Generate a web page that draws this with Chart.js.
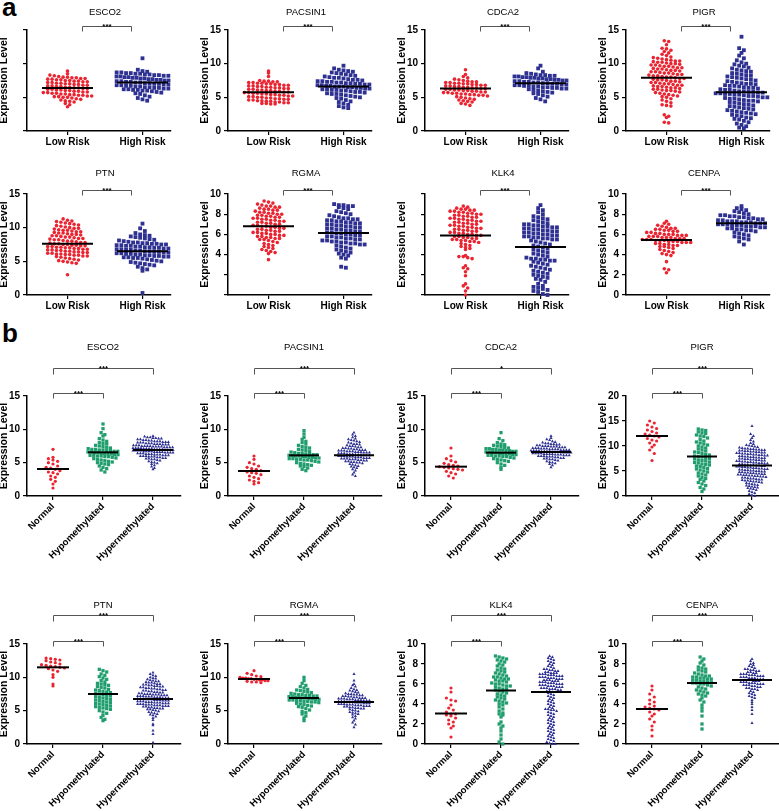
<!DOCTYPE html>
<html>
<head>
<meta charset="utf-8">
<script src="https://cdn.jsdelivr.net/npm/chart.js@4.4.1/dist/chart.umd.min.js"></script>
<style>
  body { margin: 0; background: #fff; width: 779px; height: 811px; overflow: hidden; position: relative; font-family: "Liberation Sans", Arial, sans-serif; }
  canvas { position: absolute; }
  .tag { position: absolute; font-weight: bold; font-size: 26px; line-height: 1; }
</style>
</head>
<body>
<div class="tag" style="left:2px;top:-6px">a</div>
<div class="tag" style="left:2px;top:320px">b</div>
<script>
// categories and tick values
const riskGroups = ['Low Risk', 'High Risk'];
const methGroups = ['Normal', 'Hypomethylated', 'Hypermethylated'];
const ticks15 = [0, 5, 10, 15];
const ticks10 = [0, 2, 4, 6, 8, 10];
const ticks20 = [0, 5, 10, 15, 20];

// panel a: expression by risk group
const esco2Low = [8.9,8.5,8.3,8.2,8.1,8.0,8.0,7.9,7.9,7.8,7.8,7.7,7.7,7.6,7.6,7.5,7.5,7.4,7.4,7.3,7.3,7.2,7.2,7.1,7.1,7.0,7.0,6.9,6.9,6.8,6.8,6.7,6.7,6.6,6.6,6.5,6.5,6.4,6.4,6.3,6.3,6.2,6.2,6.1,6.1,6.0,6.0,5.9,5.9,5.8,5.8,5.7,5.7,5.6,5.6,5.5,5.5,5.4,5.4,5.3,5.3,5.2,5.2,5.1,5.1,5.0,5.0,4.9,4.8,4.7,4.6,4.5,4.4,4.3,4.1,3.9,3.6];
const esco2High = [10.8,9.1,8.9,8.8,8.7,8.7,8.6,8.6,8.5,8.5,8.4,8.4,8.3,8.3,8.2,8.2,8.1,8.1,8.0,8.0,7.9,7.9,7.8,7.8,7.7,7.7,7.6,7.6,7.5,7.5,7.4,7.4,7.3,7.3,7.2,7.2,7.1,7.1,7.0,7.0,6.9,6.9,6.8,6.8,6.7,6.7,6.6,6.6,6.5,6.5,6.4,6.4,6.3,6.3,6.2,6.2,6.1,6.1,6.0,6.0,5.9,5.8,5.7,5.6,5.5,5.3,5.1,4.9,4.7,4.5];
const pacsin1Low = [8.9,8.6,8.1,7.5,7.4,7.4,7.3,7.3,7.2,7.2,7.1,7.1,7.0,7.0,6.9,6.9,6.8,6.8,6.7,6.7,6.6,6.6,6.5,6.5,6.4,6.4,6.3,6.3,6.2,6.2,6.1,6.1,6.0,6.0,5.9,5.9,5.8,5.8,5.7,5.7,5.6,5.6,5.5,5.5,5.4,5.4,5.3,5.3,5.2,5.2,5.1,5.1,5.0,5.0,4.9,4.9,4.8,4.8,4.7,4.7,4.6,4.6,4.5,4.5,4.4,4.4,4.3,4.3,4.2,4.2,4.1,4.1,4.0,4.0];
const pacsin1High = [9.7,9.3,9.1,9.0,8.9,8.8,8.7,8.6,8.5,8.4,8.3,8.2,8.1,8.0,7.9,7.9,7.8,7.7,7.6,7.6,7.5,7.4,7.4,7.3,7.3,7.2,7.2,7.1,7.1,7.0,7.0,6.9,6.9,6.8,6.8,6.7,6.7,6.6,6.6,6.6,6.5,6.5,6.4,6.4,6.3,6.3,6.2,6.2,6.1,6.1,6.0,6.0,5.9,5.8,5.8,5.7,5.6,5.5,5.5,5.4,5.3,5.2,5.1,5.0,4.9,4.8,4.6,4.4,4.3,4.1,3.9,3.7,3.5,3.4];
const cdca2Low = [9.1,8.4,8.1,7.9,7.7,7.6,7.5,7.4,7.3,7.3,7.2,7.2,7.1,7.1,7.0,7.0,6.9,6.9,6.8,6.8,6.7,6.7,6.6,6.6,6.5,6.5,6.4,6.4,6.3,6.3,6.2,6.2,6.1,6.1,6.0,6.0,5.9,5.9,5.8,5.8,5.7,5.7,5.6,5.6,5.5,5.5,5.4,5.4,5.3,5.3,5.2,5.1,5.0,4.9,4.8,4.7,4.6,4.5,4.4,4.3,4.1,4.0,3.8];
const cdca2High = [9.7,9.3,8.8,8.6,8.5,8.4,8.3,8.3,8.2,8.2,8.1,8.1,8.0,8.0,7.9,7.9,7.8,7.8,7.7,7.7,7.6,7.6,7.5,7.5,7.4,7.4,7.3,7.3,7.2,7.2,7.1,7.1,7.0,7.0,6.9,6.9,6.8,6.8,6.7,6.7,6.6,6.6,6.5,6.5,6.4,6.4,6.3,6.3,6.2,6.1,6.0,5.9,5.8,5.7,5.6,5.5,5.3,5.1,4.9,4.7,4.4];
const pigrLow = [13.4,13.3,12.8,12.3,12.2,12.0,11.8,11.6,11.4,11.2,11.0,10.9,10.8,10.7,10.6,10.5,10.4,10.4,10.3,10.2,10.2,10.1,10.0,10.0,9.9,9.8,9.8,9.7,9.6,9.6,9.5,9.4,9.4,9.3,9.2,9.2,9.1,9.0,9.0,8.9,8.8,8.8,8.7,8.6,8.6,8.5,8.4,8.4,8.3,8.2,8.2,8.1,8.0,8.0,7.9,7.8,7.8,7.7,7.6,7.6,7.5,7.4,7.4,7.3,7.2,7.2,7.1,7.0,7.0,6.9,6.8,6.8,6.7,6.6,6.6,6.5,6.4,6.4,6.3,6.2,6.2,6.1,6.0,6.0,5.9,5.8,5.7,5.6,5.5,5.4,5.3,5.2,5.1,5.0,4.8,4.6,4.4,4.2,3.9,3.8,3.7,2.4,2.2,2.0,1.3,1.2];
const pigrHigh = [14.0,12.3,12.0,11.6,11.2,10.8,10.5,10.2,10.0,9.9,9.7,9.6,9.4,9.3,9.1,9.0,8.9,8.8,8.6,8.5,8.4,8.3,8.2,8.1,8.0,7.9,7.8,7.7,7.6,7.5,7.4,7.3,7.2,7.1,7.0,7.0,6.9,6.8,6.7,6.7,6.6,6.5,6.4,6.4,6.3,6.2,6.1,6.1,6.0,5.9,5.9,5.8,5.8,5.7,5.7,5.6,5.6,5.5,5.5,5.4,5.4,5.3,5.2,5.2,5.1,5.0,5.0,4.9,4.8,4.8,4.7,4.6,4.5,4.5,4.4,4.3,4.2,4.1,4.0,3.9,3.8,3.7,3.6,3.5,3.4,3.3,3.2,3.1,3.0,2.9,2.8,2.7,2.6,2.5,2.4,2.3,2.2,2.0,1.9,1.8,1.7,1.5,1.3,1.1,0.9,0.7,0.5,0.4];
const ptnLow = [11.3,11.1,11.0,10.9,10.8,10.7,10.6,10.5,10.4,10.3,10.2,10.1,10.0,9.9,9.9,9.8,9.7,9.6,9.6,9.5,9.4,9.4,9.3,9.2,9.2,9.1,9.0,9.0,8.9,8.8,8.8,8.7,8.6,8.6,8.5,8.4,8.4,8.3,8.2,8.2,8.1,8.0,8.0,7.9,7.8,7.8,7.7,7.6,7.6,7.5,7.5,7.4,7.4,7.3,7.3,7.2,7.2,7.1,7.1,7.0,7.0,6.9,6.9,6.8,6.8,6.7,6.7,6.6,6.6,6.5,6.5,6.4,6.4,6.3,6.3,6.2,6.2,6.1,6.1,6.0,6.0,5.9,5.9,5.8,5.8,5.7,5.6,5.5,5.4,5.3,5.2,5.1,5.0,4.9,4.8,4.7,3.0];
const ptnHigh = [10.6,9.9,9.5,9.2,9.0,8.9,8.8,8.7,8.6,8.5,8.4,8.3,8.2,8.1,8.0,7.9,7.8,7.8,7.7,7.7,7.6,7.6,7.5,7.5,7.4,7.4,7.3,7.3,7.2,7.2,7.1,7.1,7.0,7.0,6.9,6.9,6.8,6.8,6.7,6.7,6.6,6.6,6.5,6.5,6.4,6.4,6.3,6.3,6.2,6.2,6.1,6.1,6.0,6.0,5.9,5.9,5.8,5.8,5.7,5.7,5.6,5.6,5.5,5.5,5.4,5.3,5.2,5.1,5.0,4.9,4.8,4.7,4.6,4.5,4.4,4.2,4.0,3.8,3.6,0.3];
const rgmaLow = [9.3,9.2,9.1,9.0,8.9,8.8,8.8,8.7,8.7,8.6,8.5,8.5,8.4,8.4,8.3,8.2,8.2,8.1,8.1,8.0,8.0,7.9,7.9,7.8,7.8,7.7,7.7,7.6,7.6,7.5,7.5,7.4,7.4,7.3,7.3,7.2,7.2,7.1,7.1,7.0,7.0,6.9,6.9,6.8,6.8,6.7,6.7,6.6,6.6,6.5,6.5,6.4,6.4,6.3,6.3,6.2,6.2,6.1,6.1,6.0,6.0,5.9,5.9,5.8,5.8,5.7,5.7,5.6,5.6,5.5,5.5,5.4,5.3,5.2,5.1,5.0,4.9,4.8,4.7,4.6,4.5,4.4,4.3,4.2,4.1,3.5];
const rgmaHigh = [9.0,8.9,8.9,8.8,8.8,8.7,8.6,8.5,8.3,8.2,8.1,8.0,7.9,7.8,7.7,7.6,7.6,7.5,7.5,7.4,7.4,7.3,7.3,7.2,7.2,7.1,7.1,7.0,7.0,6.9,6.9,6.8,6.8,6.7,6.7,6.6,6.6,6.5,6.5,6.4,6.4,6.3,6.3,6.2,6.2,6.1,6.1,6.0,6.0,5.9,5.9,5.8,5.8,5.7,5.7,5.6,5.6,5.5,5.5,5.4,5.4,5.3,5.3,5.2,5.2,5.1,5.1,5.0,5.0,4.9,4.8,4.7,4.6,4.5,4.4,4.3,4.2,4.1,4.0,3.9,3.7,3.6,2.8,2.7];
const klk4Low = [8.8,8.7,8.6,8.5,8.5,8.4,8.4,8.3,8.3,8.2,8.2,8.1,8.1,8.0,8.0,7.9,7.9,7.8,7.8,7.7,7.7,7.6,7.6,7.5,7.5,7.4,7.4,7.3,7.3,7.2,7.2,7.1,7.1,7.0,7.0,6.9,6.9,6.8,6.8,6.7,6.7,6.6,6.6,6.5,6.5,6.4,6.4,6.3,6.3,6.2,6.2,6.1,6.1,6.0,6.0,5.9,5.9,5.8,5.8,5.7,5.7,5.6,5.6,5.5,5.5,5.4,5.4,5.3,5.3,5.2,5.1,5.0,4.9,4.8,4.7,4.6,4.5,3.9,3.8,3.8,3.7,3.6,2.9,2.7,2.6,2.3,1.9,1.1,0.9,0.7,0.4,0.0];
const klk4High = [8.9,8.6,8.4,8.2,8.0,7.8,7.7,7.6,7.5,7.4,7.3,7.2,7.1,7.0,7.0,6.9,6.9,6.8,6.8,6.7,6.7,6.6,6.6,6.5,6.5,6.4,6.4,6.3,6.3,6.2,6.2,6.1,6.1,6.0,6.0,5.9,5.9,5.8,5.8,5.7,5.7,5.6,5.6,5.5,5.5,5.4,5.3,5.2,5.1,5.0,4.9,4.8,4.7,4.6,4.5,4.4,4.3,4.2,4.1,4.0,3.9,3.8,3.7,3.6,3.6,3.5,3.5,3.4,3.4,3.3,3.2,3.1,3.0,2.9,2.8,2.7,2.6,2.5,2.4,2.3,2.2,2.1,2.0,1.9,1.8,1.7,1.6,1.5,1.3,1.1,0.9,0.8,0.7,0.6,0.5,0.4,0.3,0.1,0.0];
const cenpaLow = [7.3,7.1,7.0,6.9,6.8,6.7,6.6,6.6,6.5,6.5,6.4,6.4,6.3,6.3,6.2,6.2,6.1,6.1,6.0,6.0,6.0,5.9,5.9,5.9,5.8,5.8,5.8,5.7,5.7,5.7,5.6,5.6,5.6,5.5,5.5,5.5,5.4,5.4,5.4,5.3,5.3,5.3,5.2,5.2,5.2,5.1,5.1,5.0,5.0,4.9,4.9,4.8,4.8,4.7,4.6,4.5,4.4,4.3,4.2,4.1,4.0,3.9,3.3,2.6,2.5,2.2];
const cenpaHigh = [8.8,8.6,8.5,8.4,8.3,8.2,8.1,8.0,7.9,7.9,7.8,7.8,7.7,7.7,7.6,7.6,7.5,7.5,7.4,7.4,7.3,7.3,7.3,7.2,7.2,7.2,7.1,7.1,7.1,7.0,7.0,7.0,6.9,6.9,6.9,6.8,6.8,6.8,6.7,6.7,6.6,6.6,6.5,6.5,6.4,6.4,6.3,6.2,6.1,6.0,5.9,5.8,5.7,5.6,5.5,5.3,5.0];

// panel b: expression by methylation group
const esco2Normal = [7.0,5.8,5.6,5.4,5.2,5.0,4.8,4.5,4.3,4.2,4.0,3.8,3.6,3.5,3.3,3.0,2.8,2.5,2.2,1.8,1.2];
const esco2Hypo = [10.8,10.1,9.5,9.2,9.0,8.6,8.4,8.2,8.0,7.9,7.8,7.6,7.5,7.4,7.3,7.2,7.1,7.0,7.0,6.9,6.9,6.8,6.8,6.7,6.7,6.6,6.6,6.5,6.5,6.4,6.4,6.3,6.3,6.2,6.2,6.1,6.1,6.0,6.0,5.9,5.9,5.8,5.7,5.6,5.5,5.4,5.3,5.2,5.1,5.0,4.9,4.8,4.7,4.5,4.3,4.1,3.9,3.6];
const esco2Hyper = [9.0,8.9,8.8,8.8,8.7,8.7,8.6,8.6,8.5,8.5,8.4,8.4,8.3,8.3,8.2,8.2,8.2,8.1,8.1,8.1,8.0,8.0,8.0,7.9,7.9,7.9,7.8,7.8,7.8,7.7,7.7,7.7,7.6,7.6,7.6,7.5,7.5,7.5,7.5,7.4,7.4,7.4,7.4,7.3,7.3,7.3,7.3,7.2,7.2,7.2,7.2,7.1,7.1,7.1,7.1,7.0,7.0,7.0,7.0,6.9,6.9,6.9,6.9,6.8,6.8,6.8,6.8,6.7,6.7,6.7,6.7,6.6,6.6,6.6,6.6,6.5,6.5,6.5,6.5,6.4,6.4,6.4,6.3,6.3,6.3,6.2,6.2,6.2,6.1,6.1,6.1,6.0,6.0,6.0,5.9,5.9,5.9,5.8,5.8,5.7,5.7,5.6,5.6,5.5,5.5,5.4,5.3,5.2,5.1,5.0,4.9,4.8,4.6,4.4,4.2,4.0];
const pacsin1Normal = [6.0,5.5,5.0,4.8,4.5,4.3,4.1,4.0,3.8,3.6,3.5,3.4,3.2,3.0,2.8,2.6,2.4,2.2,2.0,1.8];
const pacsin1Hypo = [9.8,9.3,8.8,8.5,8.2,8.0,7.8,7.6,7.4,7.3,7.2,7.0,6.9,6.8,6.7,6.6,6.5,6.4,6.4,6.3,6.3,6.2,6.2,6.1,6.1,6.0,6.0,5.9,5.9,5.8,5.8,5.7,5.7,5.6,5.6,5.5,5.5,5.4,5.4,5.3,5.2,5.1,5.0,4.9,4.8,4.7,4.6,4.5,4.4,4.2,4.0,3.8];
const pacsin1Hyper = [9.5,9.2,9.0,8.8,8.6,8.5,8.4,8.3,8.2,8.1,8.0,7.9,7.8,7.8,7.7,7.6,7.5,7.5,7.4,7.3,7.3,7.2,7.2,7.1,7.1,7.0,7.0,6.9,6.9,6.9,6.8,6.8,6.8,6.7,6.7,6.7,6.6,6.6,6.6,6.5,6.5,6.5,6.4,6.4,6.4,6.3,6.3,6.3,6.2,6.2,6.2,6.1,6.1,6.1,6.0,6.0,6.0,5.9,5.9,5.9,5.8,5.8,5.8,5.7,5.7,5.7,5.6,5.6,5.6,5.5,5.5,5.5,5.4,5.4,5.3,5.3,5.2,5.2,5.1,5.1,5.0,5.0,4.9,4.8,4.7,4.6,4.5,4.4,4.3,4.2,4.0,3.8,3.5,3.2,3.0];
const cdca2Normal = [7.2,6.0,5.6,5.3,5.1,4.9,4.7,4.6,4.5,4.4,4.3,4.2,4.1,4.0,3.9,3.7,3.5,3.3,3.0,2.7];
const cdca2Hypo = [9.5,8.6,8.3,8.0,7.8,7.7,7.6,7.5,7.4,7.3,7.2,7.1,7.1,7.0,7.0,6.9,6.9,6.8,6.8,6.7,6.7,6.6,6.6,6.5,6.5,6.4,6.4,6.3,6.3,6.2,6.2,6.1,6.1,6.0,6.0,5.9,5.9,5.8,5.7,5.6,5.5,5.4,5.3,5.2,5.0,4.8,4.6,4.3,4.0];
const cdca2Hyper = [9.0,8.7,8.5,8.4,8.2,8.1,8.0,7.9,7.9,7.8,7.8,7.7,7.7,7.6,7.6,7.5,7.5,7.5,7.4,7.4,7.4,7.3,7.3,7.3,7.2,7.2,7.2,7.1,7.1,7.1,7.0,7.0,7.0,7.0,6.9,6.9,6.9,6.9,6.8,6.8,6.8,6.8,6.7,6.7,6.7,6.7,6.6,6.6,6.6,6.6,6.5,6.5,6.5,6.5,6.4,6.4,6.4,6.4,6.3,6.3,6.3,6.3,6.2,6.2,6.2,6.1,6.1,6.1,6.0,6.0,6.0,5.9,5.9,5.9,5.8,5.8,5.7,5.7,5.6,5.6,5.5,5.5,5.4,5.3,5.2,5.1,5.0,4.9,4.8,4.6,4.3];
const pigrNormal = [15.0,14.6,14.2,13.8,13.5,13.2,12.9,12.6,12.4,12.2,12.0,11.8,11.5,11.2,11.0,10.6,10.2,9.8,9.2,8.5,7.1];
const pigrHypo = [13.4,13.2,13.1,12.8,12.6,12.5,12.2,12.0,11.9,11.6,11.3,11.0,10.8,10.6,10.4,10.2,10.0,9.8,9.6,9.4,9.2,9.0,8.8,8.7,8.5,8.3,8.2,8.0,7.9,7.8,7.6,7.5,7.4,7.2,7.1,7.0,6.8,6.7,6.6,6.4,6.3,6.2,6.0,5.9,5.7,5.5,5.4,5.2,5.0,4.8,4.6,4.4,4.2,4.0,3.7,3.5,3.3,3.0,2.7,2.4,2.1,1.7,1.4,0.9];
const pigrHyper = [14.0,12.4,12.0,11.6,11.2,10.9,10.6,10.4,10.2,10.1,10.0,9.9,9.8,9.7,9.6,9.5,9.5,9.4,9.4,9.3,9.3,9.2,9.2,9.1,9.1,9.0,9.0,8.9,8.9,8.8,8.8,8.7,8.7,8.6,8.6,8.5,8.5,8.4,8.4,8.3,8.3,8.2,8.2,8.1,8.1,8.0,8.0,7.9,7.9,7.8,7.8,7.7,7.7,7.6,7.6,7.5,7.5,7.4,7.4,7.3,7.3,7.2,7.2,7.1,7.1,7.0,7.0,6.9,6.9,6.8,6.8,6.7,6.7,6.6,6.6,6.5,6.5,6.4,6.4,6.3,6.3,6.2,6.2,6.1,6.1,6.0,6.0,5.9,5.9,5.8,5.8,5.7,5.7,5.6,5.6,5.5,5.5,5.4,5.4,5.3,5.3,5.2,5.2,5.1,5.1,5.0,5.0,4.9,4.9,4.8,4.8,4.7,4.7,4.6,4.6,4.5,4.5,4.4,4.4,4.3,4.3,4.2,4.2,4.1,4.1,4.0,4.0,3.9,3.9,3.8,3.7,3.7,3.6,3.5,3.5,3.4,3.3,3.3,3.2,3.1,3.1,3.0,2.9,2.9,2.8,2.7,2.6,2.5,2.4,2.3,2.2,2.1,2.0,1.9,1.8,1.7,1.6,1.5,1.4,1.2,1.0,0.8,0.6,0.4,0.2,0.0];
const ptnNormal = [12.9,12.8,12.7,12.6,12.5,12.3,12.2,12.0,11.9,11.8,11.7,11.6,11.5,11.4,11.3,11.1,10.9,10.4,10.0,9.0,8.7];
const ptnHypo = [11.2,11.0,10.8,10.5,10.3,10.1,9.9,9.7,9.5,9.3,9.1,9.0,8.9,8.8,8.6,8.5,8.4,8.2,8.1,8.0,7.9,7.8,7.7,7.6,7.5,7.4,7.3,7.2,7.1,7.0,6.9,6.8,6.7,6.6,6.5,6.4,6.3,6.2,6.1,6.0,5.9,5.8,5.7,5.6,5.5,5.4,5.3,5.2,5.0,4.8,4.6,4.3,4.0,3.7,3.5];
const ptnHyper = [10.7,10.5,10.3,10.2,10.0,9.9,9.8,9.7,9.6,9.5,9.4,9.4,9.3,9.2,9.2,9.1,9.0,9.0,8.9,8.9,8.8,8.8,8.7,8.7,8.6,8.6,8.5,8.5,8.4,8.4,8.3,8.3,8.2,8.2,8.1,8.1,8.0,8.0,7.9,7.9,7.8,7.8,7.7,7.7,7.6,7.6,7.5,7.5,7.5,7.4,7.4,7.4,7.3,7.3,7.3,7.2,7.2,7.2,7.1,7.1,7.1,7.0,7.0,7.0,6.9,6.9,6.9,6.8,6.8,6.8,6.7,6.7,6.7,6.6,6.6,6.6,6.5,6.5,6.5,6.4,6.4,6.4,6.3,6.3,6.3,6.2,6.2,6.2,6.1,6.1,6.1,6.0,6.0,6.0,5.9,5.9,5.9,5.8,5.8,5.8,5.7,5.7,5.7,5.6,5.6,5.5,5.5,5.4,5.4,5.3,5.3,5.2,5.2,5.1,5.0,4.9,4.8,4.7,4.6,4.5,4.4,4.3,4.1,3.9,3.6,3.0,2.8,2.0,1.5,0.2];
const rgmaNormal = [11.0,10.6,10.4,10.2,10.1,10.0,9.9,9.9,9.8,9.8,9.7,9.7,9.6,9.6,9.5,9.5,9.4,9.3,9.3,9.2];
const rgmaHypo = [10.0,9.5,9.1,8.8,8.6,8.4,8.2,8.1,8.0,7.9,7.8,7.7,7.6,7.5,7.4,7.4,7.3,7.3,7.2,7.2,7.1,7.1,7.0,7.0,6.9,6.9,6.8,6.8,6.7,6.7,6.6,6.6,6.5,6.5,6.4,6.4,6.3,6.3,6.2,6.1,6.0,5.9,5.8,5.7,5.6,5.5,5.3,5.1,4.9,4.7,4.5,4.2,3.9,3.5];
const rgmaHyper = [10.5,9.5,9.0,8.8,8.6,8.4,8.2,8.1,8.0,7.9,7.8,7.7,7.6,7.5,7.5,7.4,7.4,7.3,7.3,7.2,7.2,7.1,7.1,7.0,7.0,6.9,6.9,6.9,6.8,6.8,6.8,6.7,6.7,6.7,6.6,6.6,6.6,6.5,6.5,6.5,6.4,6.4,6.4,6.3,6.3,6.3,6.2,6.2,6.2,6.1,6.1,6.1,6.0,6.0,6.0,5.9,5.9,5.9,5.8,5.8,5.8,5.7,5.7,5.7,5.6,5.6,5.5,5.5,5.4,5.4,5.3,5.3,5.2,5.1,5.0,4.9,4.8,4.7,4.6,4.5,4.4,4.2,4.0,3.8,3.5,3.2,2.9,2.5];
const klk4Normal = [5.6,5.2,4.6,4.4,4.3,3.9,3.6,3.4,3.2,3.0,3.0,2.9,2.8,2.6,2.4,2.2,2.0,1.8,1.6,0.7];
const klk4Hypo = [8.8,8.7,8.6,8.5,8.4,8.3,8.2,8.0,7.9,7.8,7.6,7.5,7.4,7.3,7.2,7.1,7.0,6.9,6.8,6.7,6.7,6.6,6.5,6.5,6.4,6.3,6.3,6.2,6.1,6.0,6.0,5.9,5.8,5.8,5.7,5.6,5.5,5.5,5.4,5.3,5.2,5.1,5.0,4.9,4.8,4.7,4.6,4.5,4.4,4.3,4.2,4.1,4.0,3.9,3.7,3.5,3.3,3.1,3.0,2.9,2.7,2.2,2.0,1.8,1.6,1.3,0.9,0.5,0.2,0.0];
const klk4Hyper = [8.8,8.7,8.6,8.5,8.4,8.3,8.2,8.1,8.0,7.9,7.8,7.7,7.6,7.5,7.5,7.4,7.4,7.3,7.3,7.2,7.2,7.1,7.1,7.1,7.0,7.0,7.0,6.9,6.9,6.9,6.8,6.8,6.8,6.7,6.7,6.7,6.6,6.6,6.6,6.5,6.5,6.5,6.4,6.4,6.4,6.3,6.3,6.3,6.2,6.2,6.2,6.1,6.1,6.1,6.0,6.0,6.0,5.9,5.9,5.9,5.8,5.8,5.8,5.7,5.7,5.7,5.6,5.6,5.6,5.5,5.5,5.5,5.4,5.4,5.3,5.3,5.2,5.2,5.1,5.0,4.9,4.8,4.7,4.6,4.5,4.4,4.3,4.2,4.1,4.0,3.9,3.8,3.7,3.6,3.5,3.5,3.4,3.4,3.3,3.2,3.1,3.0,2.9,2.8,2.7,2.6,2.5,2.4,2.3,2.2,2.1,2.0,1.9,1.8,1.7,1.6,1.5,1.4,1.3,1.2,1.1,1.0,0.9,0.8,0.7,0.6,0.5,0.4,0.3,0.2,0.1,0.0,0.0];
const cenpaNormal = [5.8,5.4,5.0,4.7,4.4,4.2,4.0,3.8,3.7,3.6,3.5,3.4,3.2,3.0,2.8,2.5,2.2,1.8,1.4,0.8];
const cenpaHypo = [8.7,8.5,8.3,8.1,7.9,7.7,7.6,7.5,7.4,7.3,7.2,7.1,7.0,6.9,6.8,6.8,6.7,6.7,6.6,6.6,6.5,6.5,6.4,6.4,6.3,6.3,6.2,6.2,6.1,6.1,6.0,6.0,5.9,5.8,5.7,5.6,5.5,5.4,5.3,5.2,5.1,5.0,4.9,4.8,4.6,4.4,4.2,3.9,3.6,3.3,2.8,2.0,1.5];
const cenpaHyper = [8.5,8.3,8.1,8.0,7.9,7.8,7.7,7.6,7.5,7.5,7.4,7.4,7.3,7.3,7.2,7.2,7.1,7.1,7.0,7.0,7.0,6.9,6.9,6.9,6.8,6.8,6.8,6.7,6.7,6.7,6.6,6.6,6.6,6.5,6.5,6.5,6.4,6.4,6.4,6.3,6.3,6.3,6.2,6.2,6.2,6.1,6.1,6.1,6.0,6.0,6.0,5.9,5.9,5.9,5.8,5.8,5.7,5.7,5.6,5.6,5.5,5.5,5.4,5.3,5.2,5.1,5.0,4.9,4.8,4.7,4.6,4.4,4.2,4.0,3.7,3.4,3.0,2.1];

// mean lines
const esco2RiskMeans = [6.4, 7.2];
const pacsin1RiskMeans = [5.75, 6.6];
const cdca2RiskMeans = [6.3, 7.1];
const pigrRiskMeans = [7.9, 5.75];
const ptnRiskMeans = [7.6, 6.5];
const rgmaRiskMeans = [6.8, 6.15];
const klk4RiskMeans = [5.9, 4.75];
const cenpaRiskMeans = [5.45, 7.1];
const esco2MethMeans = [4.05, 6.55, 6.9];
const pacsin1MethMeans = [3.75, 6.1, 6.1];
const cdca2MethMeans = [4.4, 6.5, 6.6];
const pigrMethMeans = [12.0, 7.9, 6.1];
const ptnMethMeans = [11.5, 7.5, 6.75];
const rgmaMethMeans = [9.75, 6.9, 6.3];
const klk4MethMeans = [3.05, 5.35, 5.2];
const cenpaMethMeans = [3.5, 6.1, 6.4];

// significance marks
const riskStars = ['***', '***', '***', '***', '***', '***', '***', '***'];
const methStarsInner = ['***', '***', '***', '***', '***', '***', '***', '***'];
const methStarsOuter = ['***', '***', '*', '***', '***', '***', '***', '***'];

const FONT = '"Liberation Sans", Arial, sans-serif';
const RED = '#ea2430', NAVY = '#2e3192', GREEN = '#1f9d6d';
const colX = [27, 228, 425, 626];

// beeswarm: points in the same height band sit side by side, squeezed when a row is too wide
function swarm(vals, center, binU, dxU, maxU) {
    const bins = {};
    vals.forEach(v => {
        const k = Math.floor(v / binU + 1e-6);
        (bins[k] = bins[k] || []).push(v);
    });
    const pts = [];
    Object.values(bins).forEach(row => {
        const n = row.length;
        const step = n > 1 ? Math.min(dxU, maxU / (n - 1)) : 0;
        row.forEach((v, j) => pts.push({ x: center + (j - (n - 1) / 2) * step, y: v }));
    });
    return pts;
}

const deco = {
    id: 'deco',
    afterDraw(chart, args, o) {
        const { ctx, chartArea: ca, scales: { x } } = chart;
        ctx.save();
        ctx.fillStyle = '#000';
        ctx.textAlign = 'center';
        ctx.textBaseline = 'middle';
        ctx.font = '9.5px ' + FONT;
        ctx.fillText(o.title, x.getPixelForValue(o.titleX), ca.top - o.titleOff);
        ctx.save();
        ctx.translate(ca.left - 23, (ca.top + ca.bottom) / 2);
        ctx.rotate(-Math.PI / 2);
        ctx.font = 'bold 10.5px ' + FONT;
        ctx.fillText('Expression Level', 0, 0);
        ctx.restore();
        ctx.strokeStyle = '#555';
        ctx.lineWidth = 1;
        o.brackets.forEach(b => {
            const x1 = Math.round(x.getPixelForValue(b.from)) + 0.5;
            const x2 = Math.round(x.getPixelForValue(b.to)) + 0.5;
            const y = Math.round(ca.top - b.off) + 0.5;
            ctx.beginPath();
            ctx.moveTo(x1, y + b.leg);
            ctx.lineTo(x1, y);
            ctx.lineTo(x2, y);
            ctx.lineTo(x2, y + b.leg);
            ctx.stroke();
            ctx.font = 'bold 8px ' + FONT;
            ctx.textBaseline = 'alphabetic';
            ctx.fillText(b.stars, (x1 + x2) / 2, y + 2);
        });
        ctx.restore();
    }
};

function makePanel(p) {
    const isB = p.groups.length === 3;
    const unit = isB ? 50 : 75;
    const xMin = isB ? -0.52 : -0.54, xMax = isB ? 2.56 : 1.38;
    const YW = 34, padTop = isB ? 56 : 34, XH = isB ? 100 : 28, padR = 4;
    const plotH = p.bottom - p.top, plotW = Math.round((xMax - xMin) * unit);
    const cv = document.createElement('canvas');
    cv.width = YW + plotW + padR;
    cv.height = padTop + plotH + XH;
    cv.style.left = (p.axisX - YW) + 'px';
    cv.style.top = (p.top - padTop) + 'px';
    document.body.appendChild(cv);

    const yMax = p.ticks[p.ticks.length - 1];
    const pxPerY = plotH / yMax;
    const datasets = [];
    p.groups.forEach((g, i) => {
        datasets.push({
            type: 'scatter', data: swarm(g.vals, i, g.bin / pxPerY, g.dx / unit, g.maxW / unit),
            pointStyle: g.style, pointRadius: g.r, pointHoverRadius: g.r,
            backgroundColor: g.color, borderColor: g.color, borderWidth: 0, clip: false, order: 2
        });
        datasets.push({
            type: 'line', data: [{ x: i - g.half, y: p.means[i] }, { x: i + g.half, y: p.means[i] }],
            borderColor: '#000', borderWidth: 2, pointRadius: 0, clip: false, order: 1
        });
    });

    new Chart(cv, {
        type: 'scatter',
        data: { datasets },
        plugins: [deco],
        options: {
            responsive: false, animation: false, devicePixelRatio: 1,
            layout: { padding: { top: padTop, left: 0, right: padR, bottom: 0 } },
            plugins: {
                legend: { display: false }, tooltip: { enabled: false },
                deco: { title: p.title, titleX: isB ? 1 : 0.5, titleOff: p.titleOff, brackets: p.brackets }
            },
            scales: {
                x: {
                    type: 'linear', min: xMin, max: xMax,
                    afterBuildTicks: s => { s.ticks = p.cats.map((c, i) => ({ value: i })); },
                    afterFit: s => { s.height = XH; },
                    grid: { display: true, drawOnChartArea: false, drawTicks: true, tickLength: 4, color: '#000', lineWidth: 1.2 },
                    border: { display: true, color: '#000', width: 1.5 },
                    ticks: {
                        autoSkip: false, padding: 1,
                        maxRotation: isB ? 45 : 0, minRotation: isB ? 45 : 0,
                        color: '#000', font: { family: FONT, size: isB ? 9.5 : 10, weight: 'bold' },
                        callback: v => p.cats[v]
                    }
                },
                y: {
                    min: 0, max: yMax,
                    afterBuildTicks: s => { s.ticks = p.ticks.map(v => ({ value: v })); },
                    afterFit: s => { s.width = YW; },
                    grid: { display: true, drawOnChartArea: false, drawTicks: true, tickLength: 4, color: '#000', lineWidth: 1.2 },
                    border: { display: true, color: '#000', width: 1.5 },
                    ticks: {
                        padding: 3, color: '#000', font: { family: FONT, size: 10, weight: 'bold' },
                        callback: v => (p.hideLabels || v < p.labelFrom) ? '' : v
                    }
                }
            }
        }
    });
}

function riskGroupsOf(low, high) {
    return [
        { vals: low, color: RED, style: 'circle', r: 1.8, bin: 3.5, dx: 4.4, maxW: 52, half: 0.34 },
        { vals: high, color: NAVY, style: 'rect', r: 2.7, bin: 4.2, dx: 4.7, maxW: 52, half: 0.34 }
    ];
}
function methGroupsOf(normal, hypo, hyper) {
    return [
        { vals: normal, color: RED, style: 'circle', r: 1.6, bin: 4.2, dx: 4.6, maxW: 28, half: 0.32 },
        { vals: hypo, color: GREEN, style: 'rect', r: 2.3, bin: 3.4, dx: 3.7, maxW: 30, half: 0.3 },
        { vals: hyper, color: NAVY, style: 'triangle', r: 1.8, bin: 2.7, dx: 2.8, maxW: 40, half: 0.4 }
    ];
}

const riskPanels = [
    ['ESCO2', esco2Low, esco2High, esco2RiskMeans, ticks15, true, 0],
    ['PACSIN1', pacsin1Low, pacsin1High, pacsin1RiskMeans, ticks15, false, 0],
    ['CDCA2', cdca2Low, cdca2High, cdca2RiskMeans, ticks15, false, 0],
    ['PIGR', pigrLow, pigrHigh, pigrRiskMeans, ticks15, false, 0],
    ['PTN', ptnLow, ptnHigh, ptnRiskMeans, ticks15, false, 0],
    ['RGMA', rgmaLow, rgmaHigh, rgmaRiskMeans, ticks10, false, 4],
    ['KLK4', klk4Low, klk4High, klk4RiskMeans, ticks10, true, 0],
    ['CENPA', cenpaLow, cenpaHigh, cenpaRiskMeans, ticks10, false, 0]
];
riskPanels.forEach((r, i) => {
    const row = Math.floor(i / 4);
    makePanel({
        title: r[0], cats: riskGroups, groups: riskGroupsOf(r[1], r[2]), means: r[3], ticks: r[4],
        hideLabels: r[5], labelFrom: r[6],
        axisX: colX[i % 4], top: row ? 194 : 30, bottom: row ? 295 : 131, titleOff: row ? 21 : 18,
        brackets: [{ from: 0.19, to: 0.84, off: 4, leg: 5, stars: riskStars[i] }]
    });
});

const methPanels = [
    ['ESCO2', esco2Normal, esco2Hypo, esco2Hyper, esco2MethMeans, ticks15],
    ['PACSIN1', pacsin1Normal, pacsin1Hypo, pacsin1Hyper, pacsin1MethMeans, ticks15],
    ['CDCA2', cdca2Normal, cdca2Hypo, cdca2Hyper, cdca2MethMeans, ticks15],
    ['PIGR', pigrNormal, pigrHypo, pigrHyper, pigrMethMeans, ticks20],
    ['PTN', ptnNormal, ptnHypo, ptnHyper, ptnMethMeans, ticks15],
    ['RGMA', rgmaNormal, rgmaHypo, rgmaHyper, rgmaMethMeans, ticks15],
    ['KLK4', klk4Normal, klk4Hypo, klk4Hyper, klk4MethMeans, ticks10],
    ['CENPA', cenpaNormal, cenpaHypo, cenpaHyper, cenpaMethMeans, ticks10]
];
methPanels.forEach((r, i) => {
    const row = Math.floor(i / 4);
    makePanel({
        title: r[0], cats: methGroups, groups: methGroupsOf(r[1], r[2], r[3]), means: r[4], ticks: r[5],
        hideLabels: false, labelFrom: 0,
        axisX: colX[i % 4], top: row ? 644 : 396, bottom: row ? 744 : 496, titleOff: row ? 39 : 49,
        brackets: [
            { from: 0, to: 2, off: row ? 29 : 28, leg: 6, stars: methStarsOuter[i] },
            { from: 0, to: 1, off: 3, leg: 5, stars: methStarsInner[i] }
        ]
    });
});
</script>
</body>
</html>
